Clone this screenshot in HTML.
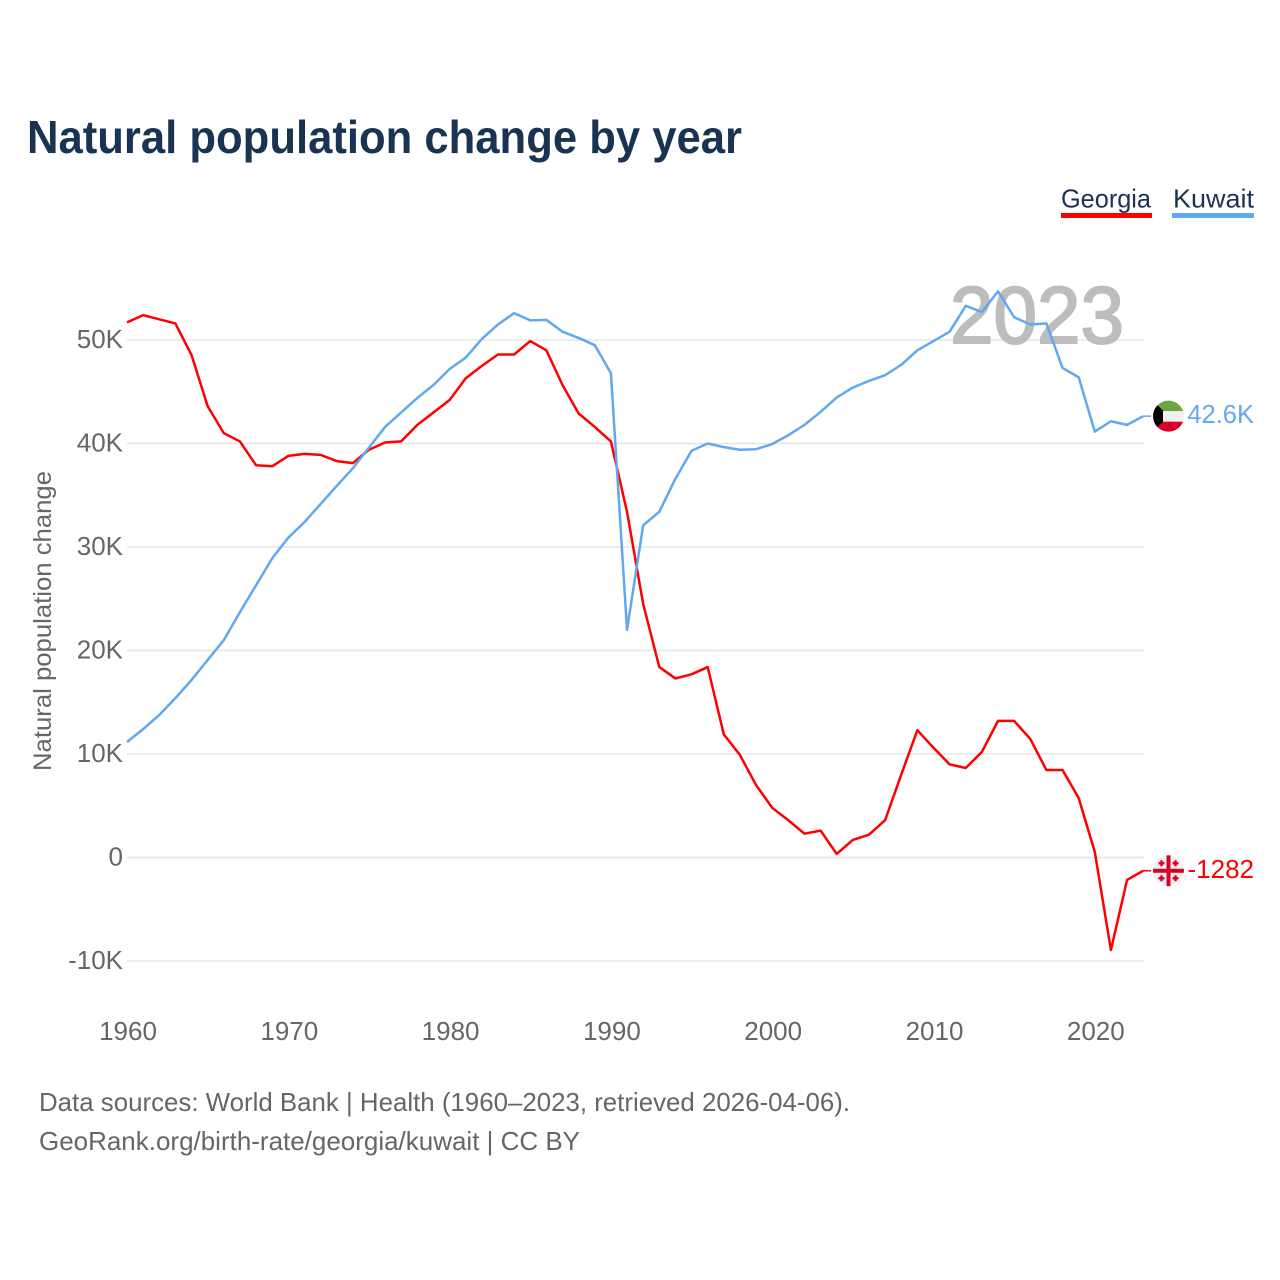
<!DOCTYPE html>
<html lang="en">
<head>
<meta charset="utf-8">
<title>Natural population change by year</title>
<style>
html,body{margin:0;padding:0;background:#fff;width:1280px;height:1280px;overflow:hidden}
svg{display:block}
text{font-family:"Liberation Sans",sans-serif}
</style>
</head>
<body>
<svg id="chart" xmlns="http://www.w3.org/2000/svg" width="1280" height="1280" viewBox="0 0 1280 1280">
  <defs>
    <clipPath id="flag-clip"><circle cx="0" cy="0" r="15.5"/></clipPath>
  </defs>
  <rect width="1280" height="1280" fill="#fff"/>
  <text x="27" y="153" font-size="46" font-weight="700" fill="#1a3353" textLength="715" lengthAdjust="spacingAndGlyphs">Natural population change by year</text>

  <g>
    <g>
      <text x="1061" y="207.5" font-size="26" fill="#1a3353" textLength="90" lengthAdjust="spacingAndGlyphs">Georgia</text>
      <rect x="1061" y="213" width="91" height="5" fill="#ff0000"/>
    </g>
    <g>
      <text x="1173" y="207.5" font-size="26" fill="#1a3353" textLength="81" lengthAdjust="spacingAndGlyphs">Kuwait</text>
      <rect x="1172" y="213" width="82" height="5" fill="#62a8ee"/>
    </g>
  </g>

  <g id="grid"></g>
  <text x="1124" y="343" text-anchor="end" font-size="81" font-weight="400" fill="#bdbdbd" stroke="#bdbdbd" stroke-width="2" textLength="174" lengthAdjust="spacingAndGlyphs">2023</text>
  <g id="y-ticks"></g>
  <g id="x-ticks"></g>
  <text transform="translate(51 621) rotate(-90)" text-anchor="middle" font-size="25" fill="#666" textLength="300" lengthAdjust="spacingAndGlyphs">Natural population change</text>

  <g id="series"></g>

  <g id="flag-kuwait">
    <g clip-path="url(#flag-clip)">
      <rect x="-16" y="-16" width="32" height="11" fill="#6da544"/>
      <rect x="-16" y="-5" width="32" height="10.5" fill="#f0f0f0"/>
      <rect x="-16" y="5.5" width="32" height="11" fill="#d80027"/>
      <polygon points="-16,-16 -5.5,-5.5 -5.5,5.5 -16,16" fill="#000"/>
    </g>
  </g>
  <g id="flag-georgia">
    <g clip-path="url(#flag-clip)">
      <rect x="-16" y="-16" width="32" height="32" fill="#f0f0f0"/>
      <rect x="-2" y="-16" width="4" height="32" fill="#d80027"/>
      <rect x="-16" y="-2" width="32" height="4" fill="#d80027"/>
      <rect x="-8.2" y="-10.5" width="2.4" height="6" fill="#d80027"/>
      <rect x="-10" y="-8.7" width="6" height="2.4" fill="#d80027"/>
      <rect x="5.8" y="-10.5" width="2.4" height="6" fill="#d80027"/>
      <rect x="4" y="-8.7" width="6" height="2.4" fill="#d80027"/>
      <rect x="-8.2" y="4.5" width="2.4" height="6" fill="#d80027"/>
      <rect x="-10" y="6.3" width="6" height="2.4" fill="#d80027"/>
      <rect x="5.8" y="4.5" width="2.4" height="6" fill="#d80027"/>
      <rect x="4" y="6.3" width="6" height="2.4" fill="#d80027"/>
    </g>
  </g>
  <g id="end-labels"></g>

  <g>
    <text x="39" y="1111" font-size="26" fill="#666" textLength="811" lengthAdjust="spacingAndGlyphs">Data sources: World Bank | Health (1960–2023, retrieved 2026-04-06).</text>
    <text x="39" y="1150" font-size="26" fill="#666" textLength="541" lengthAdjust="spacingAndGlyphs">GeoRank.org/birth-rate/georgia/kuwait | CC BY</text>
  </g>
</svg>
<script>
const years = [1960,1961,1962,1963,1964,1965,1966,1967,1968,1969,1970,1971,1972,1973,1974,1975,1976,1977,1978,1979,1980,1981,1982,1983,1984,1985,1986,1987,1988,1989,1990,1991,1992,1993,1994,1995,1996,1997,1998,1999,2000,2001,2002,2003,2004,2005,2006,2007,2008,2009,2010,2011,2012,2013,2014,2015,2016,2017,2018,2019,2020,2021,2022,2023];
const georgiaValues = [51.7,52.4,52.0,51.6,48.55,43.6,41.0,40.2,37.9,37.8,38.8,39.0,38.9,38.3,38.1,39.4,40.1,40.2,41.8,43.0,44.2,46.3,47.5,48.6,48.6,49.9,49.0,45.65,42.9,41.6,40.2,33.4,24.5,18.4,17.3,17.7,18.4,11.9,9.9,7.0,4.8,3.6,2.3,2.6,0.34,1.7,2.2,3.6,8.0,12.3,10.6,9.0,8.65,10.2,13.2,13.2,11.45,8.45,8.45,5.75,0.53,-8.94,-2.17,-1.282];
const kuwaitValues = [11.16,12.4,13.77,15.4,17.15,19.08,21.0,23.7,26.3,28.9,30.9,32.4,34.15,35.9,37.6,39.6,41.6,43.0,44.4,45.65,47.2,48.3,50.1,51.5,52.6,51.9,51.95,50.8,50.2,49.5,46.8,22.0,32.1,33.4,36.6,39.3,40.0,39.65,39.4,39.45,39.95,40.8,41.8,43.05,44.45,45.4,46.05,46.6,47.6,49.0,49.9,50.8,53.3,52.7,54.7,52.2,51.5,51.6,47.3,46.4,41.15,42.15,41.8,42.64];
const yTicks = [-10,0,10,20,30,40,50];
const yTickLabels = ["-10K","0","10K","20K","30K","40K","50K"];
const xTicks = [1960,1970,1980,1990,2000,2010,2020];
const endLabels = ["-1282","42.6K"];

const NS = "http://www.w3.org/2000/svg";
function xScale(year){ return 127 + (year - 1960) * 16.13; }
function yScale(v){ return 857.5 - v * 10.35; }
function make(tag, parent, attrs, text){
  const el = document.createElementNS(NS, tag);
  for (const k in attrs) el.setAttribute(k, attrs[k]);
  if (text !== undefined) el.textContent = text;
  parent.appendChild(el);
  return el;
}
const gridG = document.getElementById("grid");
const yG = document.getElementById("y-ticks");
const xG = document.getElementById("x-ticks");
const seriesG = document.getElementById("series");
const labelsG = document.getElementById("end-labels");

yTicks.forEach(function(t, i){
  const line = make("line", gridG, {x1:127, x2:1144, y1:yScale(t), y2:yScale(t), stroke:"#e6e6e6", "stroke-width":1.5});
  
  
  const lab = make("text", yG, {x:123, y:yScale(t) + 8, "text-anchor":"end", "font-size":26, fill:"#666"}, yTickLabels[i]);
  
  
});
xTicks.forEach(function(t){
  const lab = make("text", xG, {x:xScale(t) + 1, y:1040, "text-anchor":"middle", "font-size":26, fill:"#666"}, t);
  
  
});
function linePath(values){
  return values.map(function(v, i){
    return (i ? "L" : "M") + xScale(years[i]).toFixed(2) + " " + yScale(v).toFixed(2);
  }).join("");
}
const georgiaLine = make("path", seriesG, {d:linePath(georgiaValues), fill:"none", stroke:"#ff0000", "stroke-width":2.5, "stroke-linejoin":"round"});


const kuwaitLine = make("path", seriesG, {d:linePath(kuwaitValues), fill:"none", stroke:"#62a8ee", "stroke-width":2.5, "stroke-linejoin":"round"});



const lastYear = years[years.length - 1];
const gLast = yScale(georgiaValues[georgiaValues.length - 1]);
const kLast = yScale(kuwaitValues[kuwaitValues.length - 1]);
const gLead = make("line", seriesG, {x1:xScale(lastYear), x2:1151, y1:gLast, y2:gLast, stroke:"#ff0000", "stroke-width":1.5});


const kLead = make("line", seriesG, {x1:xScale(lastYear), x2:1151, y1:kLast, y2:kLast, stroke:"#62a8ee", "stroke-width":1.5});


document.getElementById("flag-georgia").setAttribute("transform", "translate(1168.5 " + gLast + ")");
document.getElementById("flag-kuwait").setAttribute("transform", "translate(1168.5 " + kLast + ")");
const gLabel = make("text", labelsG, {x:1254, y:gLast + 7, "text-anchor":"end", "font-size":26, fill:"#ff0000"}, endLabels[0]);


const kLabel = make("text", labelsG, {x:1254, y:kLast + 7, "text-anchor":"end", "font-size":25.5, fill:"#62a8ee"}, endLabels[1]);


</script>
</body>
</html>
